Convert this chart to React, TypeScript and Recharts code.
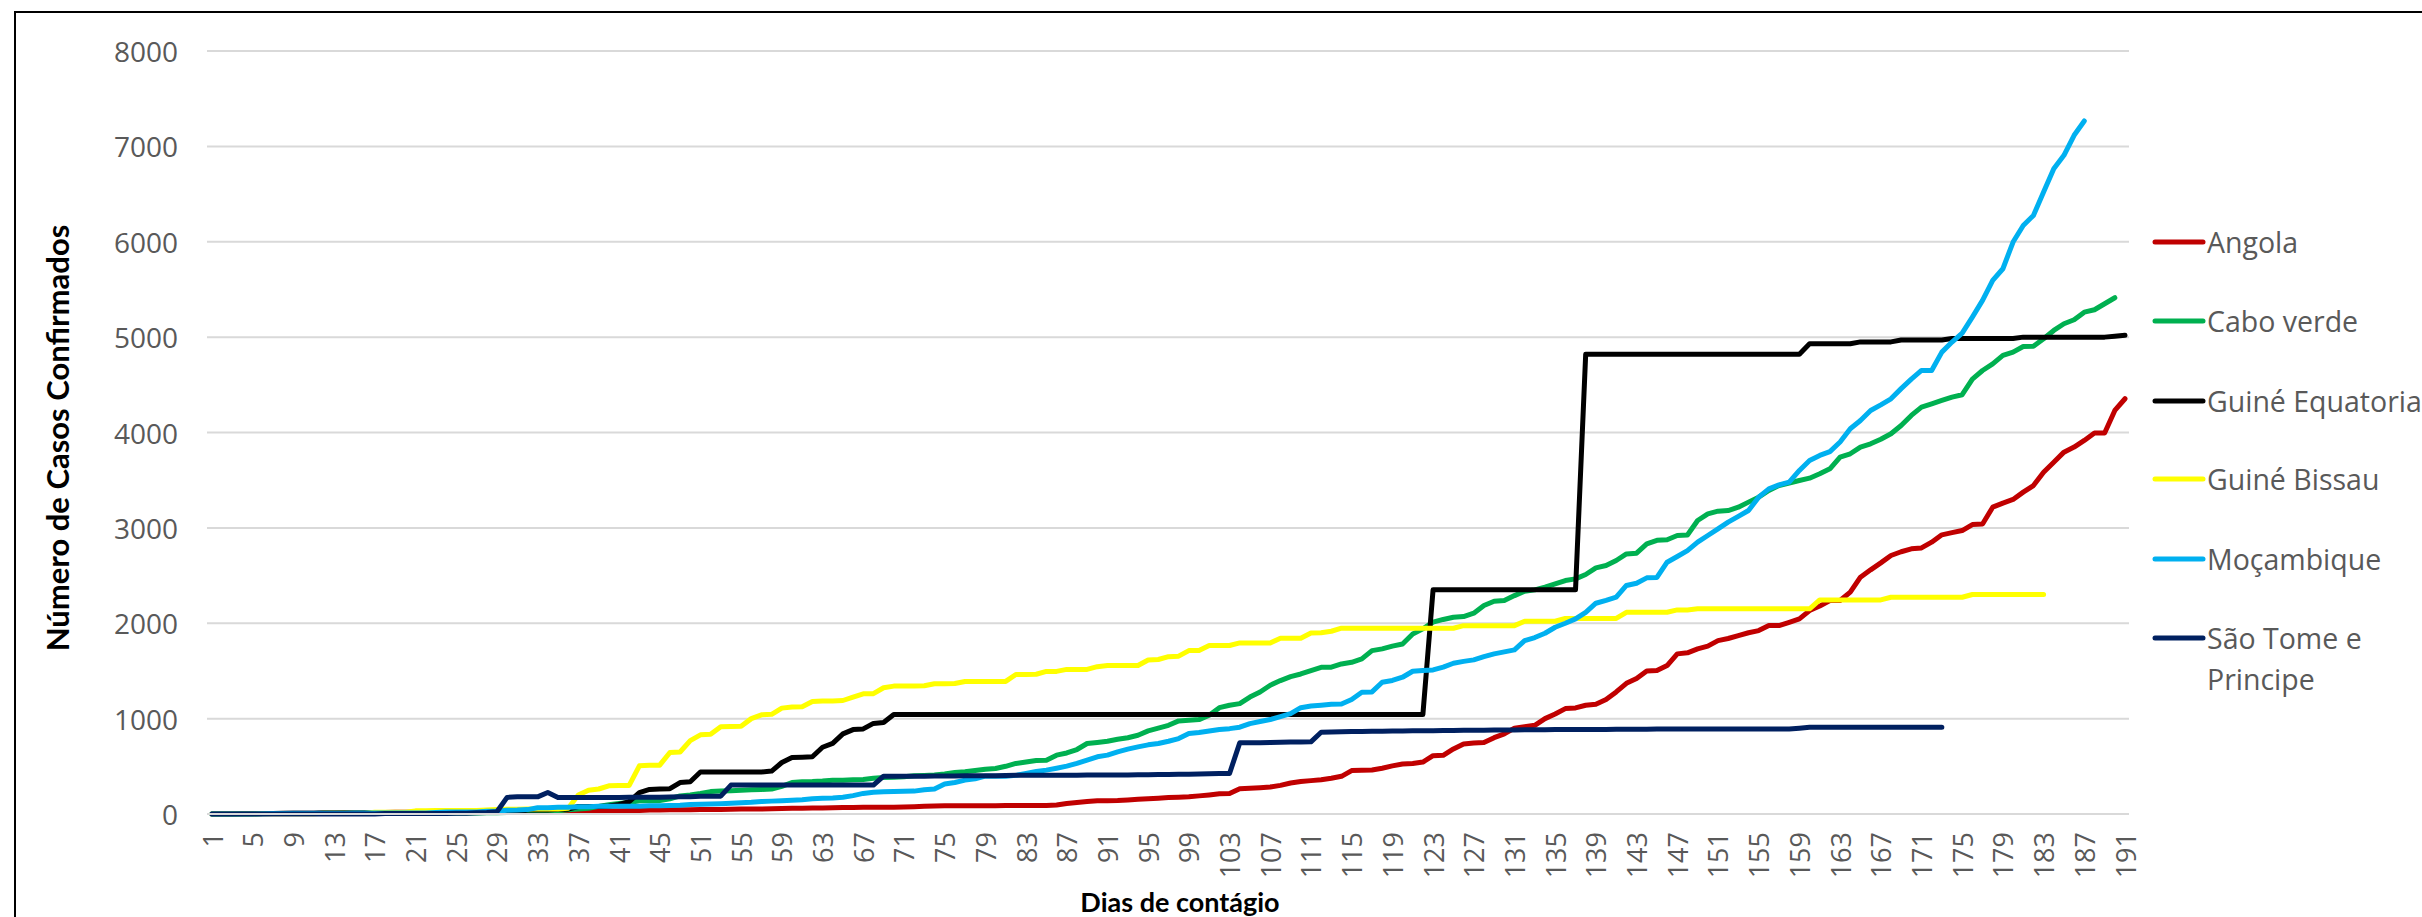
import React from "react";
import { LineChart, Line, XAxis, YAxis, CartesianGrid } from "recharts";

// day labels on the category axis (two days are missing from the source table)
const dias = [
  1, 2, 3, 4, 5, 6, 7, 8, 9, 10,
  11, 12, 13, 14, 15, 16, 17, 18, 19, 20,
  21, 22, 23, 24, 25, 26, 27, 28, 29, 30,
  31, 32, 33, 34, 35, 36, 37, 38, 39, 40,
  41, 42, 43, 44, 45, 46, 47, 50, 51, 52,
  53, 54, 55, 56, 57, 58, 59, 60, 61, 62,
  63, 64, 65, 66, 67, 68, 69, 70, 71, 72,
  73, 74, 75, 76, 77, 78, 79, 80, 81, 82,
  83, 84, 85, 86, 87, 88, 89, 90, 91, 92,
  93, 94, 95, 96, 97, 98, 99, 100, 101, 102,
  103, 104, 105, 106, 107, 108, 109, 110, 111, 112,
  113, 114, 115, 116, 117, 118, 119, 120, 121, 122,
  123, 124, 125, 126, 127, 128, 129, 130, 131, 132,
  133, 134, 135, 136, 137, 138, 139, 140, 141, 142,
  143, 144, 145, 146, 147, 148, 149, 150, 151, 152,
  153, 154, 155, 156, 157, 158, 159, 160, 161, 162,
  163, 164, 165, 166, 167, 168, 169, 170, 171, 172,
  173, 174, 175, 176, 177, 178, 179, 180, 181, 182,
  183, 184, 185, 186, 187, 188, 189, 190, 191,
];

const angola = [
  0, 2, 2, 3, 3, 4, 4, 5, 7, 7,
  8, 8, 8, 10, 14, 14, 16, 17, 19, 19,
  19, 19, 19, 19, 19, 19, 19, 24, 24, 24,
  25, 25, 25, 26, 27, 27, 27, 30, 35, 35,
  35, 36, 36, 43, 43, 45, 45, 45, 48, 48,
  48, 50, 52, 52, 53, 55, 58, 60, 60, 62,
  64, 66, 68, 69, 70, 70, 71, 72, 74, 76,
  80, 84, 86, 86, 86, 86, 87, 87, 88, 88,
  88, 88, 90, 95, 110, 120, 130, 138, 140, 142,
  148, 155, 160, 166, 172, 176, 180, 190, 200, 212,
  215, 265, 270, 276, 284, 300, 325, 340, 350, 360,
  375, 395, 455, 460, 462, 480, 505, 525, 530, 545,
  612, 615, 682, 735, 745, 750, 800, 840, 900, 916,
  930, 1000, 1049, 1105, 1112, 1140, 1150, 1200, 1280, 1370,
  1420, 1500, 1504, 1556, 1679, 1690, 1731, 1760, 1818, 1840,
  1871, 1900, 1923, 1976, 1976, 2010, 2046, 2133, 2180, 2238,
  2238, 2326, 2483, 2560, 2633, 2710, 2750, 2780, 2790, 2850,
  2927, 2950, 2972, 3035, 3040, 3217, 3260, 3298, 3375, 3444,
  3584, 3689, 3794, 3847, 3917, 3994, 3994, 4231, 4354,
];

const caboVerde = [
  0, 0, 1, 1, 3, 4, 5, 5, 5, 6,
  6, 6, 6, 7, 7, 7, 7, 7, 7, 8,
  8, 8, 8, 10, 10, 11, 11, 12, 14, 16,
  18, 20, 25, 30, 35, 45, 52, 60, 80, 98,
  110, 120, 139, 140, 140, 160, 190, 200, 216, 235,
  240, 245, 250, 255, 258, 262, 290, 330, 338, 340,
  345, 355, 355, 360, 362, 375, 383, 385, 390, 400,
  405, 408, 420, 435, 442, 455, 470, 477, 500, 530,
  545, 560, 564, 617, 640, 676, 739, 750, 763, 784,
  800, 826, 871, 900, 930, 976, 982, 990, 1035, 1115,
  1140, 1157, 1226, 1279, 1350, 1399, 1440, 1468, 1504, 1538,
  1539, 1573, 1591, 1626, 1713, 1731, 1760, 1783, 1888, 1941,
  2011, 2040, 2063, 2070, 2105, 2186, 2231, 2238, 2290, 2336,
  2350, 2378, 2412, 2448, 2465, 2511, 2581, 2605, 2658, 2727,
  2735, 2833, 2870, 2875, 2920, 2925, 3077, 3147, 3175, 3182,
  3217, 3270, 3322, 3392, 3444, 3470, 3497, 3521, 3567, 3619,
  3742, 3777, 3847, 3882, 3930, 3987, 4074, 4179, 4266, 4300,
  4336, 4371, 4396, 4560, 4650, 4720, 4808, 4843, 4902, 4905,
  4983, 5070, 5140, 5182, 5262, 5287, 5350, 5413, null,
];

const guineEquatorial = [
  1, 1, 1, 4, 4, 6, 6, 9, 9, 9,
  9, 12, 12, 12, 12, 13, 14, 14, 15, 16,
  16, 16, 16, 16, 18, 18, 18, 18, 21, 21,
  21, 41, 41, 41, 51, 51, 79, 79, 79, 83,
  100, 130, 225, 258, 262, 265, 330, 338, 440, 440,
  440, 440, 440, 440, 440, 450, 540, 592, 595, 600,
  700, 740, 840, 885, 892, 950, 960, 1043, 1043, 1043,
  1043, 1043, 1043, 1043, 1043, 1043, 1043, 1043, 1043, 1043,
  1043, 1043, 1043, 1043, 1043, 1043, 1043, 1043, 1043, 1043,
  1043, 1043, 1043, 1043, 1043, 1043, 1043, 1043, 1043, 1043,
  1043, 1043, 1043, 1043, 1043, 1043, 1043, 1043, 1043, 1043,
  1043, 1043, 1043, 1043, 1043, 1043, 1043, 1043, 1043, 1043,
  2350, 2350, 2350, 2350, 2350, 2350, 2350, 2350, 2350, 2350,
  2350, 2350, 2350, 2350, 2350, 4821, 4821, 4821, 4821, 4821,
  4821, 4821, 4821, 4821, 4821, 4821, 4821, 4821, 4821, 4821,
  4821, 4821, 4821, 4821, 4821, 4821, 4821, 4930, 4930, 4930,
  4930, 4930, 4950, 4950, 4950, 4950, 4970, 4970, 4970, 4970,
  4970, 4985, 4985, 4985, 4985, 4985, 4985, 4985, 5000, 5000,
  5000, 5000, 5000, 5000, 5000, 5000, 5000, 5010, 5020,
];

const guineBissau = [
  0, 0, 0, 0, 0, 2, 2, 2, 2, 2,
  2, 8, 8, 9, 9, 9, 18, 18, 18, 18,
  33, 33, 36, 36, 38, 38, 38, 43, 46, 50,
  50, 52, 52, 53, 53, 60, 200, 250, 262, 295,
  300, 300, 505, 510, 512, 645, 650, 770, 830, 835,
  915, 918, 920, 1000, 1040, 1045, 1110, 1122, 1125, 1180,
  1185, 1185, 1190, 1226, 1260, 1262, 1324, 1341, 1341, 1341,
  1345, 1366, 1366, 1368, 1390, 1390, 1390, 1390, 1390, 1463,
  1463, 1465, 1495, 1495, 1516, 1516, 1516, 1545, 1557, 1557,
  1557, 1557, 1615, 1620, 1650, 1655, 1713, 1714, 1766, 1766,
  1767, 1794, 1794, 1794, 1794, 1843, 1843, 1843, 1898, 1900,
  1916, 1948, 1948, 1948, 1948, 1948, 1948, 1948, 1948, 1948,
  1948, 1948, 1948, 1975, 1975, 1975, 1975, 1975, 1975, 2021,
  2021, 2021, 2021, 2050, 2050, 2050, 2050, 2050, 2050, 2115,
  2115, 2115, 2115, 2115, 2140, 2140, 2151, 2151, 2151, 2151,
  2151, 2151, 2151, 2151, 2151, 2151, 2151, 2151, 2245, 2245,
  2245, 2245, 2245, 2245, 2245, 2273, 2273, 2273, 2273, 2273,
  2273, 2273, 2273, 2301, 2301, 2301, 2301, 2301, 2301, 2301,
  2301, null, null, null, null, null, null, null, null,
];

const mocambique = [
  0, 0, 1, 1, 1, 3, 5, 5, 7, 8,
  8, 8, 8, 8, 10, 10, 10, 10, 10, 10,
  10, 10, 17, 20, 21, 21, 21, 28, 29, 39,
  41, 46, 65, 65, 70, 70, 76, 76, 80, 81,
  81, 82, 82, 86, 86, 88, 91, 100, 103, 104,
  107, 112, 119, 122, 130, 135, 140, 145, 150, 160,
  165, 168, 175, 193, 216, 228, 233, 235, 238, 240,
  255, 262, 315, 330, 355, 370, 397, 397, 397, 405,
  425, 445, 460, 480, 502, 530, 564, 600, 617, 652,
  680, 704, 725, 739, 763, 791, 843, 855, 871, 885,
  895, 910, 948, 970, 990, 1020, 1052, 1115, 1132, 1140,
  1150, 1154, 1200, 1276, 1280, 1381, 1400, 1434, 1497, 1505,
  1511, 1540, 1581, 1600, 1616, 1650, 1679, 1700, 1721, 1818,
  1850, 1895, 1958, 2000, 2046, 2115, 2210, 2240, 2273, 2396,
  2420, 2476, 2480, 2640, 2700, 2762, 2850, 2920, 2990, 3060,
  3120, 3182, 3322, 3409, 3450, 3479, 3602, 3707, 3760, 3800,
  3900, 4039, 4126, 4231, 4290, 4353, 4460, 4560, 4651, 4651,
  4843, 4948, 5042, 5210, 5385, 5594, 5717, 5997, 6171, 6276,
  6521, 6766, 6906, 7116, 7266, null, null, null, null,
];

const saoTome = [
  0, 0, 0, 0, 0, 0, 0, 0, 0, 0,
  0, 0, 0, 0, 0, 0, 0, 4, 4, 4,
  4, 4, 4, 4, 8, 8, 14, 16, 23, 174,
  180, 182, 180, 226, 174, 174, 174, 174, 174, 174,
  174, 175, 175, 175, 176, 178, 180, 181, 185, 187,
  187, 303, 303, 303, 303, 303, 303, 303, 303, 303,
  303, 303, 303, 303, 303, 303, 397, 397, 397, 397,
  397, 398, 398, 398, 400, 400, 402, 402, 404, 405,
  405, 405, 406, 406, 407, 407, 408, 408, 408, 408,
  410, 411, 412, 413, 415, 416, 418, 420, 422, 424,
  425, 746, 746, 748, 750, 752, 754, 756, 757, 857,
  860, 862, 864, 865, 867, 868, 870, 871, 872, 874,
  874, 875, 876, 877, 878, 879, 880, 881, 882, 883,
  884, 884, 885, 885, 886, 886, 887, 887, 888, 888,
  889, 889, 890, 890, 891, 891, 892, 892, 892, 892,
  892, 892, 892, 892, 892, 892, 900, 909, 909, 909,
  909, 909, 909, 909, 909, 909, 909, 909, 909, 909,
  909, null, null, null, null, null, null, null, null, null,
  null, null, null, null, null, null, null, null, null,
];

const yTicks = [0, 1000, 2000, 3000, 4000, 5000, 6000, 7000, 8000];

const series = [
  { key: "angola", name: "Angola", color: "#C00000", values: angola },
  { key: "caboVerde", name: "Cabo verde", color: "#00B050", values: caboVerde },
  { key: "guineEq", name: "Guiné Equatorial", color: "#000000", values: guineEquatorial },
  { key: "guineBissau", name: "Guiné Bissau", color: "#FFFF00", values: guineBissau },
  { key: "mocambique", name: "Moçambique", color: "#00B0F0", values: mocambique },
  { key: "saoTome", name: "São Tome e Principe", color: "#002060", values: saoTome },
];

const rows = dias.map((dia, i) => {
  const row: Record<string, number | null> = { dia };
  series.forEach((s) => {
    row[s.key] = s.values[i] ?? null;
  });
  return row;
});

const tickFont = "'Open Sans', 'DejaVu Sans', sans-serif";
const titleFont = "Lato, 'Open Sans', sans-serif";
const grey = "#595959";

const XTick = (props: any) => {
  const { x, payload } = props;
  const y = 832;
  return (
    <text
      x={x}
      y={y}
      transform={`rotate(-90 ${x} ${y})`}
      textAnchor="end"
      dominantBaseline="central"
      fontFamily={tickFont}
      fontSize={27}
      fill={grey}
    >
      {payload.value}
    </text>
  );
};

const YTick = (props: any) => {
  const { y, payload } = props;
  return (
    <text
      x={178}
      y={y}
      textAnchor="end"
      dominantBaseline="central"
      fontFamily={tickFont}
      fontSize={28}
      fill={grey}
    >
      {payload.value}
    </text>
  );
};

const XTitle = () => (
  <text x={1180} y={912} textAnchor="middle" fontFamily={titleFont} fontWeight="bold" fontSize={27} fill="#000">
    Dias de contágio
  </text>
);

const YTitle = () => (
  <text
    x={57}
    y={438}
    transform="rotate(-90 57 438)"
    textAnchor="middle"
    dominantBaseline="central"
    fontFamily={titleFont}
    fontWeight="bold"
    fontSize={31}
    fill="#000"
  >
    Número de Casos Confirmados
  </text>
);

// legend rows, right of the plot
const legendY = [242, 321, 401, 479, 559, 638];

function Legenda() {
  return (
    <svg width={2422} height={917} style={{ position: "absolute", left: 0, top: 0, pointerEvents: "none" }}>
      {series.map((s, i) => {
        const y = legendY[i];
        const lines = s.key === "saoTome" ? ["São Tome e", "Principe"] : [s.name];
        return (
          <g key={s.key}>
            <line x1={2155} y1={y} x2={2203} y2={y} stroke={s.color} strokeWidth={5} strokeLinecap="round" />
            <text x={2207} y={y} dominantBaseline="central" fontFamily={tickFont} fontSize={28.5} fill={grey}>
              {lines.map((t, j) => (
                <tspan key={j} x={2207} dy={j === 0 ? 0 : 41}>
                  {t}
                </tspan>
              ))}
            </text>
          </g>
        );
      })}
    </svg>
  );
}

export default function App() {
  return (
    <div
      style={{
        position: "absolute",
        left: 0,
        top: 0,
        width: 2422,
        height: 917,
        overflow: "hidden",
        background: "#fff",
      }}
    >
      <div
        style={{
          position: "absolute",
          left: 14,
          top: 11,
          width: 2500,
          height: 1000,
          border: "2px solid #000",
        }}
      />
      <LineChart
        width={2422}
        height={917}
        data={rows}
        margin={{ top: 51, right: 293, bottom: 0, left: 107 }}
      >
        <CartesianGrid vertical={false} stroke="#d9d9d9" strokeWidth={2} />
        <XAxis
          dataKey="dia"
          interval={3}
          padding={{ left: 5, right: 4 }}
          height={103}
          axisLine={{ stroke: "#d9d9d9", strokeWidth: 2 }}
          tickLine={false}
          tick={<XTick />}
          label={<XTitle />}
        />
        <YAxis
          domain={[0, 8000]}
          ticks={yTicks}
          width={100}
          axisLine={false}
          tickLine={false}
          tick={<YTick />}
          label={<YTitle />}
        />
        {series.map((s) => (
          <Line
            key={s.key}
            type="linear"
            dataKey={s.key}
            name={s.name}
            stroke={s.color}
            strokeWidth={5}
            strokeLinejoin="round"
            strokeLinecap="round"
            dot={false}
            activeDot={false}
            isAnimationActive={false}
          />
        ))}
      </LineChart>
      <Legenda />
    </div>
  );
}
